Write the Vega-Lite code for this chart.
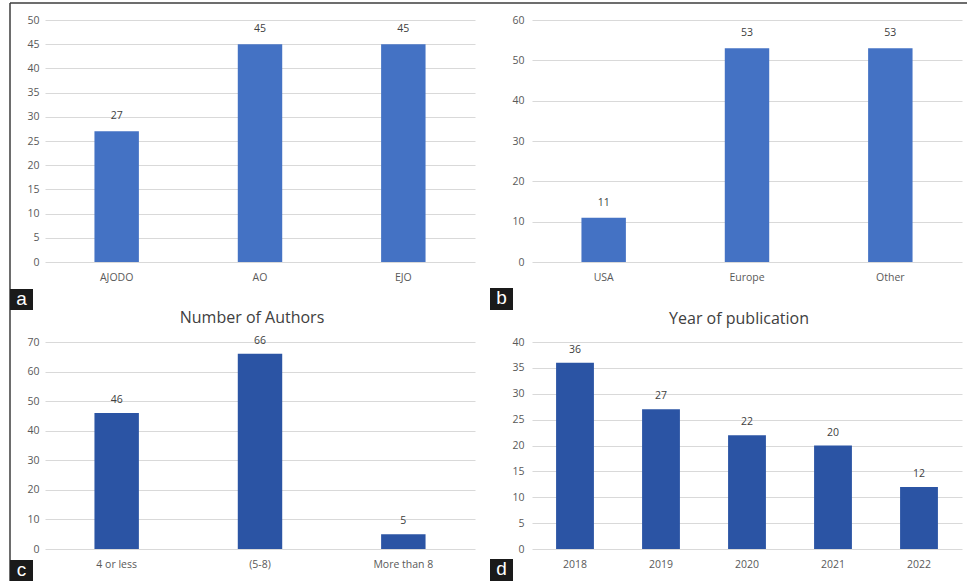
{
  "$schema": "https://vega.github.io/schema/vega-lite/v6.json",
  "autosize": {"type": "pad"},
  "padding": {"left": 9, "top": 2, "right": 0, "bottom": 0},
  "background": "white",
  "config": {
    "view": {"stroke": null},
    "font": "Open Sans",
    "axis": {"labelFont": "Open Sans", "labelColor": "#595959", "labelFontSize": 10.5, "gridColor": "#D9D9D9", "gridWidth": 1, "domain": false, "ticks": false, "title": null, "labelOverlap": false},
    "title": {"font": "Open Sans", "fontSize": 16, "fontWeight": "normal", "color": "#404040", "offset": 10}
  },
  "datasets": {
    "journal": [{"cat": "AJODO", "n": 27}, {"cat": "AO", "n": 45}, {"cat": "EJO", "n": 45}],
    "region": [{"cat": "USA", "n": 11}, {"cat": "Europe", "n": 53}, {"cat": "Other", "n": 53}],
    "authors": [{"cat": "4 or less", "n": 46}, {"cat": "(5-8)", "n": 66}, {"cat": "More than 8", "n": 5}],
    "year": [{"cat": "2018", "n": 36}, {"cat": "2019", "n": 27}, {"cat": "2020", "n": 22}, {"cat": "2021", "n": 20}, {"cat": "2022", "n": 12}]
  },
  "columns": 2,
  "bounds": "flush",
  "spacing": {"row": 80, "column": 57},
  "concat": [
    {
      "width": 430, "height": 242,
      "layer": [
        {
          "data": {"name": "journal"},
          "mark": {"type": "bar", "color": "#4472C4"},
          "encoding": {
            "x": {"field": "cat", "type": "nominal", "sort": null, "scale": {"paddingInner": 0.69, "paddingOuter": 0.345}, "axis": {"labelAngle": 0, "labelPadding": 10, "grid": false}},
            "y": {"field": "n", "type": "quantitative", "scale": {"domain": [0, 50], "nice": false}, "axis": {"values": [0, 5, 10, 15, 20, 25, 30, 35, 40, 45, 50], "labelPadding": 6}}
          }
        },
        {
          "data": {"name": "journal"},
          "mark": {"type": "text", "dy": -10, "fontSize": 10.5, "color": "#404040", "baseline": "bottom"},
          "encoding": {
            "x": {"field": "cat", "type": "nominal", "sort": null},
            "y": {"field": "n", "type": "quantitative", "axis": {"values": [0, 5, 10, 15, 20, 25, 30, 35, 40, 45, 50], "labelPadding": 6}},
            "text": {"field": "n", "type": "quantitative"}
          }
        },
        {
          "data": {"values": [{}]},
          "mark": {"type": "rule", "color": "#3c3c3c", "strokeWidth": 1.5},
          "encoding": {"x": {"value": -35}, "y": {"value": -17}, "y2": {"value": 561}}
        },
        {
          "data": {"values": [{}]},
          "mark": {"type": "rule", "color": "#3c3c3c", "strokeWidth": 1.5},
          "encoding": {"x": {"value": -35}, "x2": {"value": 922}, "y": {"value": -17}}
        },
        {
          "data": {"values": [{}]},
          "mark": {"type": "rect", "color": "#1a1a1a"},
          "encoding": {"x": {"value": -35}, "x2": {"value": -12}, "y": {"value": 269}, "y2": {"value": 290}}
        },
        {
          "data": {"values": [{"t": "a"}]},
          "mark": {"type": "text", "color": "white", "fontSize": 19, "font": "Liberation Sans", "baseline": "middle", "align": "center"},
          "encoding": {"x": {"value": -23.5}, "y": {"value": 278.5}, "text": {"field": "t"}}
        }
      ]
    },
    {
      "width": 430, "height": 242,
      "layer": [
        {
          "data": {"name": "region"},
          "mark": {"type": "bar", "color": "#4472C4"},
          "encoding": {
            "x": {"field": "cat", "type": "nominal", "sort": null, "scale": {"paddingInner": 0.69, "paddingOuter": 0.345}, "axis": {"labelAngle": 0, "labelPadding": 10, "grid": false}},
            "y": {"field": "n", "type": "quantitative", "scale": {"domain": [0, 60], "nice": false}, "axis": {"values": [0, 10, 20, 30, 40, 50, 60], "labelPadding": 8}}
          }
        },
        {
          "data": {"name": "region"},
          "mark": {"type": "text", "dy": -10, "fontSize": 10.5, "color": "#404040", "baseline": "bottom"},
          "encoding": {
            "x": {"field": "cat", "type": "nominal", "sort": null},
            "y": {"field": "n", "type": "quantitative", "axis": {"values": [0, 10, 20, 30, 40, 50, 60], "labelPadding": 8}},
            "text": {"field": "n", "type": "quantitative"}
          }
        },
        {
          "data": {"values": [{}]},
          "mark": {"type": "rect", "color": "#1a1a1a"},
          "encoding": {"x": {"value": -42}, "x2": {"value": -19}, "y": {"value": 268}, "y2": {"value": 290}}
        },
        {
          "data": {"values": [{"t": "b"}]},
          "mark": {"type": "text", "color": "white", "fontSize": 19, "font": "Liberation Sans", "baseline": "middle", "align": "center"},
          "encoding": {"x": {"value": -30.5}, "y": {"value": 278}, "text": {"field": "t"}}
        }
      ]
    },
    {
      "width": 430, "height": 207,
      "title": {"text": "Number of Authors", "dx": -8},
      "layer": [
        {
          "data": {"name": "authors"},
          "mark": {"type": "bar", "color": "#2B54A4"},
          "encoding": {
            "x": {"field": "cat", "type": "nominal", "sort": null, "scale": {"paddingInner": 0.69, "paddingOuter": 0.345}, "axis": {"labelAngle": 0, "labelPadding": 10, "grid": false}},
            "y": {"field": "n", "type": "quantitative", "scale": {"domain": [0, 70], "nice": false}, "axis": {"values": [0, 10, 20, 30, 40, 50, 60, 70], "labelPadding": 6}}
          }
        },
        {
          "data": {"name": "authors"},
          "mark": {"type": "text", "dy": -8, "fontSize": 10.5, "color": "#404040", "baseline": "bottom"},
          "encoding": {
            "x": {"field": "cat", "type": "nominal", "sort": null},
            "y": {"field": "n", "type": "quantitative", "axis": {"values": [0, 10, 20, 30, 40, 50, 60, 70], "labelPadding": 6}},
            "text": {"field": "n", "type": "quantitative"}
          }
        },
        {
          "data": {"values": [{}]},
          "mark": {"type": "rect", "color": "#1a1a1a"},
          "encoding": {"x": {"value": -35}, "x2": {"value": -12}, "y": {"value": 218}, "y2": {"value": 239}}
        },
        {
          "data": {"values": [{"t": "c"}]},
          "mark": {"type": "text", "color": "white", "fontSize": 19, "font": "Liberation Sans", "baseline": "middle", "align": "center"},
          "encoding": {"x": {"value": -23.5}, "y": {"value": 228}, "text": {"field": "t"}}
        }
      ]
    },
    {
      "width": 430, "height": 207,
      "title": {"text": "Year of publication", "dx": -8},
      "layer": [
        {
          "data": {"name": "year"},
          "mark": {"type": "bar", "color": "#2B54A4"},
          "encoding": {
            "x": {"field": "cat", "type": "nominal", "sort": null, "scale": {"paddingInner": 0.56, "paddingOuter": 0.28}, "axis": {"labelAngle": 0, "labelPadding": 10, "grid": false}},
            "y": {"field": "n", "type": "quantitative", "scale": {"domain": [0, 40], "nice": false}, "axis": {"values": [0, 5, 10, 15, 20, 25, 30, 35, 40], "labelPadding": 8}}
          }
        },
        {
          "data": {"name": "year"},
          "mark": {"type": "text", "dy": -8, "fontSize": 10.5, "color": "#404040", "baseline": "bottom"},
          "encoding": {
            "x": {"field": "cat", "type": "nominal", "sort": null},
            "y": {"field": "n", "type": "quantitative", "axis": {"values": [0, 5, 10, 15, 20, 25, 30, 35, 40], "labelPadding": 8}},
            "text": {"field": "n", "type": "quantitative"}
          }
        },
        {
          "data": {"values": [{}]},
          "mark": {"type": "rect", "color": "#1a1a1a"},
          "encoding": {"x": {"value": -42}, "x2": {"value": -19}, "y": {"value": 217}, "y2": {"value": 239}}
        },
        {
          "data": {"values": [{"t": "d"}]},
          "mark": {"type": "text", "color": "white", "fontSize": 19, "font": "Liberation Sans", "baseline": "middle", "align": "center"},
          "encoding": {"x": {"value": -30.5}, "y": {"value": 227}, "text": {"field": "t"}}
        }
      ]
    }
  ]
}
